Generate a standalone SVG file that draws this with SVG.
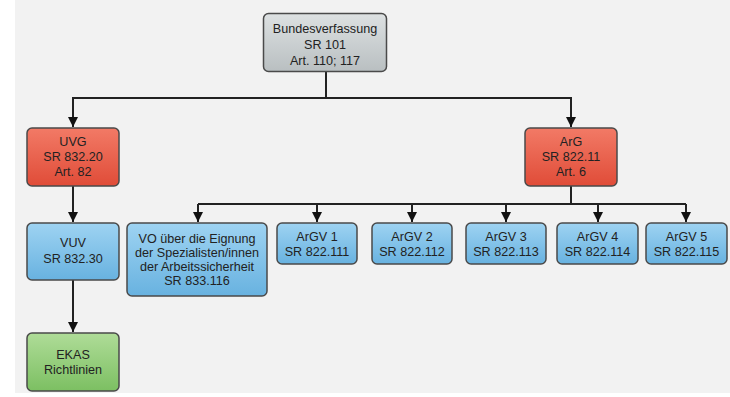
<svg xmlns="http://www.w3.org/2000/svg" width="730" height="397" viewBox="0 0 730 397">
<style>
.box{stroke:#4a4a4a;stroke-width:1.5}
.t{font-family:"Liberation Sans",Arial,sans-serif;font-size:12.6px;fill:#222;text-anchor:middle}
.c{fill:none;stroke:#222;stroke-width:2}
</style>
<defs>
<linearGradient id="gGray" x1="0" y1="0" x2="0" y2="1"><stop offset="0" stop-color="#dde1e2"/><stop offset="1" stop-color="#b9bfc1"/></linearGradient>
<linearGradient id="gRed" x1="0" y1="0" x2="0" y2="1"><stop offset="0" stop-color="#f27a66"/><stop offset="1" stop-color="#e04c38"/></linearGradient>
<linearGradient id="gBlue" x1="0" y1="0" x2="0" y2="1"><stop offset="0" stop-color="#9ed3f2"/><stop offset="1" stop-color="#68b2e0"/></linearGradient>
<linearGradient id="gGreen" x1="0" y1="0" x2="0" y2="1"><stop offset="0" stop-color="#afdc98"/><stop offset="1" stop-color="#7cbf62"/></linearGradient>
<marker id="arr" viewBox="0 0 10 10" refX="10" refY="5" markerWidth="5" markerHeight="5" orient="auto" markerUnits="strokeWidth"><path d="M0,0 L10,5 L0,10 z" fill="#111"/></marker>
</defs>
<rect x="0" y="0" width="730" height="397" fill="#ffffff"/>
<rect x="15" y="0" width="715" height="393" fill="#f2f2f2"/>

<g id="connectors">
<path class="c" d="M326,72 V98"/>
<path class="c" d="M326,98 H73 V127" marker-end="url(#arr)"/>
<path class="c" d="M326,98 H571 V127" marker-end="url(#arr)"/>
<path class="c" d="M73,186 V222" marker-end="url(#arr)"/>
<path class="c" d="M73,280 V332" marker-end="url(#arr)"/>
<path class="c" d="M571,186 V204 M198,204 H686"/>
<path class="c" d="M198,204 V222" marker-end="url(#arr)"/>
<path class="c" d="M317,204 V222" marker-end="url(#arr)"/>
<path class="c" d="M412,204 V222" marker-end="url(#arr)"/>
<path class="c" d="M506,204 V222" marker-end="url(#arr)"/>
<path class="c" d="M598,204 V222" marker-end="url(#arr)"/>
<path class="c" d="M686,204 V222" marker-end="url(#arr)"/>
</g>

<g id="bundesverfassung">
<rect class="box" x="263.5" y="13.5" width="123" height="58" rx="5" fill="url(#gGray)"/>
<text class="t" x="325" y="33">Bundesverfassung</text>
<text class="t" x="325" y="49">SR 101</text>
<text class="t" x="325" y="65">Art. 110; 117</text>
</g>

<g id="uvg">
<rect class="box" x="27" y="128" width="92" height="58" rx="5" fill="url(#gRed)"/>
<text class="t" x="73" y="146">UVG</text>
<text class="t" x="73" y="161">SR 832.20</text>
<text class="t" x="73" y="176">Art. 82</text>
</g>

<g id="arg">
<rect class="box" x="525" y="128" width="92" height="58" rx="5" fill="url(#gRed)"/>
<text class="t" x="571" y="146">ArG</text>
<text class="t" x="571" y="161">SR 822.11</text>
<text class="t" x="571" y="176">Art. 6</text>
</g>

<g id="vuv">
<rect class="box" x="27" y="223" width="92" height="57" rx="5" fill="url(#gBlue)"/>
<text class="t" x="73" y="247">VUV</text>
<text class="t" x="73" y="263">SR 832.30</text>
</g>

<g id="ekas">
<rect class="box" x="27" y="333" width="92" height="58" rx="5" fill="url(#gGreen)"/>
<text class="t" x="73" y="359">EKAS</text>
<text class="t" x="73" y="374">Richtlinien</text>
</g>

<g id="vo">
<rect class="box" x="127" y="223" width="140" height="73" rx="5" fill="url(#gBlue)"/>
<text class="t" x="197" y="243">VO über die Eignung</text>
<text class="t" x="197" y="257">der Spezialisten/innen</text>
<text class="t" x="197" y="271">der Arbeitssicherheit</text>
<text class="t" x="197" y="285">SR 833.116</text>
</g>

<g id="argv1">
<rect class="box" x="277" y="223" width="80" height="41" rx="5" fill="url(#gBlue)"/>
<text class="t" x="317" y="241">ArGV 1</text>
<text class="t" x="317" y="256">SR 822.111</text>
</g>
<g id="argv2">
<rect class="box" x="372" y="223" width="80" height="41" rx="5" fill="url(#gBlue)"/>
<text class="t" x="412" y="241">ArGV 2</text>
<text class="t" x="412" y="256">SR 822.112</text>
</g>
<g id="argv3">
<rect class="box" x="466" y="223" width="80" height="41" rx="5" fill="url(#gBlue)"/>
<text class="t" x="506" y="241">ArGV 3</text>
<text class="t" x="506" y="256">SR 822.113</text>
</g>
<g id="argv4">
<rect class="box" x="557" y="223" width="81" height="41" rx="5" fill="url(#gBlue)"/>
<text class="t" x="597.5" y="241">ArGV 4</text>
<text class="t" x="597.5" y="256">SR 822.114</text>
</g>
<g id="argv5">
<rect class="box" x="646" y="223" width="81" height="41" rx="5" fill="url(#gBlue)"/>
<text class="t" x="686.5" y="241">ArGV 5</text>
<text class="t" x="686.5" y="256">SR 822.115</text>
</g>
</svg>
